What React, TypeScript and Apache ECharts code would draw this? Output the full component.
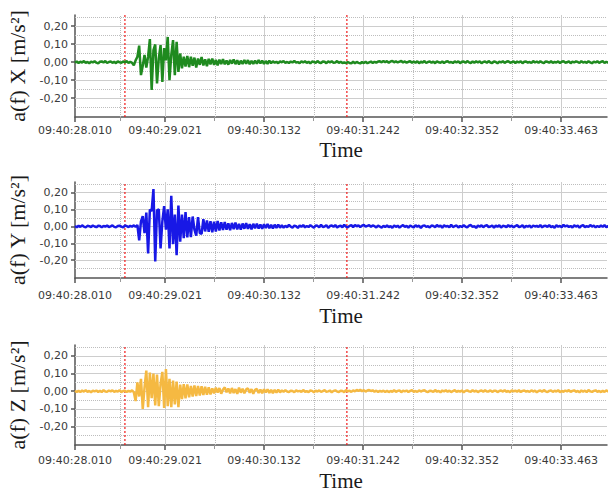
import React, { useEffect, useRef } from "react";
import * as echarts from "echarts";

// time axis: seconds within 09:40
const T0 = 28.01;
const DT = 0.02;
const X_MIN = 28.01;
const X_MAX = 33.978;
const Y_MIN = -0.305;
const Y_MAX = 0.262;
const tickTimes = [28.01, 29.021, 30.132, 31.242, 32.352, 33.463];
const minorTimes = [28.5155, 29.5765, 30.687, 31.797, 32.9075];
const markerTimes = [28.57, 31.06];
const yLabelValues = [-0.2, -0.1, 0, 0.1, 0.2];
const ySolid = [-0.2, -0.1, 0, 0.1, 0.2];
const yDotted = [-0.25, -0.15, -0.05, 0.05, 0.15, 0.25];
const axisNames = ["a(f) X [m/s²]", "a(f) Y [m/s²]", "a(f) Z [m/s²]"];

// accelerations in 0.001 m/s², one sample every DT seconds
const accXmilli = [
  -3, 4, -5, 2, -2, 6, -4, 1, -6, 3, -1, 5, -3, -7, 2, 4, -2, 6, -5, 1, 3, -4, 2, -6, 5, -1, -3, 4, -2, 6, -5, 2, -4,
  -18, 10, 30, 92, -72, -20, 40, -30, 30, 128, -155, 67, 98, -118, 20, 95, -110, 78, 10, 140, -100, 40, 122, -72, 113,
  -54, 48, -35, 30, -25, 35, -28, 30, -20, 25, -30, 20, -15, 28, -18, 15, -22, 18, -12, 20, -15, 12, -18,
  14, -10, 16, -12, 9, -14, 12, -8, 15, -11, 10, -13, 8, -10, 12, -9, 11, -12, 7, -10, 9, -8, 11, -7, 8, -10, 6, -9, 8, -6,
  5, -3, 2, -6, 4, -1, 6, -4, 1, -5, 3, -2, 7, -3, 0, -6, 4, -2, 5, -4,
  2, -7, 3, 1, -4, 6, -2, -5, 3, 2, -6, 4, -1, 5, -3, -2, 6, -4, 2, -5,
  -2, -6, 1, -5, -7, 2, -6, 1, -4, -7, 0, -5, 2, -6, -1, 3, -5, 2, -3, 4,
  5, -1, 6, 0, 5, -3, 4, 7, -1, 5, -2, 3, 6, -2, 4, -3, 2, 5, -3, 4,
  -3, 5, -6, 2, -2, 6, -5, 1, 4, -4, 3, -6, 5, -1, -3, 4, -5, 2, 6, -3,
  1, -5, 4, -2, 5, -6, 2, 3, -4, 6, -1, -5, 3, -3, 5, -2, 4, -6, 1, 3,
  -4, 6, -2, -5, 4, 1, -6, 3, -1, 5, -4, 2, 6, -3, -1, 4, -5, 3, -2, 5,
  -6, 2, 4, -3, 1, -5, 6, -2, 3, -4, 5, -1, -6, 4, 2, -3, 5, -4, 1, -2,
  4, -5, 2, 6, -3, -1, 5, -6, 3, -2, 4, 1, -5, 6, -3, 2, -4, 5, -1, -6,
  3, -2, 5, -4, 1, 6, -5, 2, -3, 4, -6, 3, 1, -4, 5, -2, -5, 4, -1, 3,
];

const accYmilli = [
  2, -5, 4, -3, 6, -2, -6, 3, 1, -4, 5, -1, -5, 4, 2, -6, 3, -2, 5, -4, 0, 6, -3, -5, 2, 4, -2, -6, 5, 1, -4, 3, -2, 6, -3,
  8, -83, 30, 61, -40, 81, -160, 100, 90, 220, -208, 95, 100, -130, 30, 119, -20, 100, -130, 181, -105, 70, -170, 123,
  -90, 70, -70, 85, -65, 55, -63, 58, -20, -55, 55, -40, -44, 42, -30, 35, -32, 30, -35, 28, -30, 32, -25, 24, -22, 25, -20,
  18, -22, 20, -16, 22, -18, 15, -20, 17, -14, 19, -15, 13, -17, 15, -12, 16, -13, 11, -15, 12, -10, 14, -11, 9, -12, 10, -9, 11, -8,
  6, -8, 3, -5, 9, -2, -7, 4, 1, -9, 5, -3, 8, -6, 2, -4, 7, -1, -8, 5,
  3, -6, 9, -4, -1, 7, -9, 2, 5, -3, 8, -7, 1, 4, -5, 9, -2, -6, 3, 7,
  -5, 8, 0, 6, -4, 4, 9, -2, 3, 7, -3, 5, 1, -6, 4, -1, -7, 3, -4, 6,
  -5, 2, -9, 6, -3, 4, -7, 1, 8, -4, 3, -8, 5, -1, -6, 7, -2, 4, -9, 3,
  6, -3, 1, -7, 5, 2, -5, 8, -2, 4, -8, 6, -1, 3, -6, 9, -4, 1, 5, -7,
  2, -4, 7, -1, -6, 4, 8, -3, 1, -9, 5, -2, 6, -5, 3, 7, -4, -1, 5, -8,
  4, -2, 6, -7, 3, 1, -5, 8, -3, 5, -6, 2, 7, -4, -1, 6, -8, 3, -2, 4,
  -7, 5, -1, 3, -4, 8, -6, 2, 4, -3, 7, -5, 1, -8, 6, -2, 3, -6, 9, -1,
  5, -4, 2, -7, 6, -1, 4, -8, 3, 7, -5, 1, -3, 8, -2, 5, -6, 2, -4, 6,
  -3, 7, -5, 1, 4, -6, 8, -2, -4, 5, -1, 6, -7, 3, 2, -5, 7, -3, 1, -6,
];

const accZmilli = [
  3, -4, 2, -5, 4, -2, 5, -3, 1, -6, 3, -1, 4, -4, 2, -5, 6, -2, -3, 4, -1, 5, -4, 2, -2, 6, -5, 1, 3, -4, 2, -3, 5, -6,
  -56, 50, -30, 70, -100, 20, 117, -90, 106, -40, 100, -80, 95, -85, 40, 110, -95, 126, -85, 70, -90, 60, -75, 55,
  -90, 37, -45, 40, -40, 38, -35, 30, -30, 32, -28, 30, -25, 28, -22, 25, -20, 22, -18,
  16, -12, 20, -8, 18, -14, 10, 22, -6, 15, -12, 18, -10, 12, -15, 20, -8, 14, -12, 10, 16, -9, 12, -14, 8, 13, -10, 9,
  -12, 11, -7, 10, -9, 8, -11, 7, -8, 9, -6,
  4, -3, 6, -2, -5, 3, 1, -6, 5, -1, 2, -4, 7, -3, 0, -5, 4, 2, -6, 3,
  -2, 5, -4, 1, 6, -3, -1, 4, -6, 2, 5, -2, -4, 3, 1, -5, 6, -1, 3, -4,
  5, -1, 7, 2, 8, 0, 6, -2, 4, 7, 1, 5, -3, 3, -4, 2, -3, 3, -4, 2,
  -5, 1, -3, 6, -4, 2, 5, -6, 3, -1, 4, -5, 2, 6, -3, 1, -4, 5, -2, 3,
  6, -2, -5, 3, 1, -4, 7, -3, 2, -6, 4, -1, 5, -3, 3, -5, 1, 6, -4, 2,
  -3, 4, -6, 2, 5, -1, -4, 6, -2, 3, -5, 1, 4, -3, 6, -2, -1, 5, -4, 2,
  3, -5, 1, 4, -2, 6, -4, 2, -6, 5, -1, 3, -3, 6, -5, 2, 4, -2, 1, -4,
  5, -2, 3, -6, 1, 4, -3, 6, -1, -5, 2, 5, -4, 3, -2, 6, -5, 1, -3, 4,
  -1, 6, -4, 2, 5, -3, 1, -6, 4, -2, 3, -5, 6, -1, -4, 2, 5, -3, 1, -5,
  2, -4, 5, -1, 3, -6, 4, -2, 6, -3, 1, -5, 3, 4, -2, -6, 5, -1, 2, -3,
];

const seriesValues = [accXmilli, accYmilli, accZmilli];
const seriesColors = ["#1f8a1f", "#1818e6", "#f5b942"];

const panels = [
  { top: 15, height: 102, labelMargin: 8, timeGap: 22 },
  { top: 182, height: 96, labelMargin: 12, timeGap: 27 },
  { top: 345, height: 100, labelMargin: 10, timeGap: 25 },
];

const fmtTime = (v: number) => "09:40:" + v.toFixed(3);
const fmtY = (v: number) => v.toFixed(2).replace(".", ",");

export default function App() {
  const ref = useRef<HTMLDivElement>(null);
  useEffect(() => {
    document.body.style.margin = "0";
    if (!ref.current) return;
    const chart = echarts.init(ref.current, undefined, { renderer: "svg" });
    const axisColor = "#555";
    const labelStyle = { fontFamily: "DejaVu Sans", fontSize: 11, color: "#3a3a3a" };
    const nameStyle = { fontFamily: "Liberation Serif", fontSize: 22, color: "#1a1a1a" };

    const grid = panels.map((p) => ({
      left: 75,
      right: 1,
      top: p.top,
      height: p.height,
      containLabel: false,
      outerBoundsMode: "none",
    }));

    const xMain = panels.map((p, k) => ({
      type: "value",
      gridIndex: k,
      min: X_MIN,
      max: X_MAX,
      position: "bottom",
      axisLine: { show: true, onZero: false, lineStyle: { color: axisColor, width: 1.5 } },
      axisTick: { show: true, customValues: tickTimes, length: 5, lineStyle: { color: axisColor, width: 1.5 } },
      axisLabel: { show: true, customValues: tickTimes, formatter: fmtTime, margin: p.labelMargin, ...labelStyle },
      splitLine: { show: false },
      name: "Time",
      nameLocation: "middle",
      nameGap: p.timeGap,
      nameTextStyle: { ...nameStyle, fontSize: 21 },
    }));
    const xMinor = panels.map((p, k) => ({
      type: "value",
      gridIndex: k,
      min: X_MIN,
      max: X_MAX,
      position: "bottom",
      axisLine: { show: false, onZero: false },
      axisTick: { show: true, customValues: minorTimes, length: 4, lineStyle: { color: "#999", width: 1 } },
      axisLabel: { show: false },
      splitLine: { show: false },
    }));

    const yAxes = panels.map((p, k) => ({
      type: "value",
      gridIndex: k,
      min: Y_MIN,
      max: Y_MAX,
      axisLine: { show: true, onZero: false, lineStyle: { color: axisColor, width: 1.5 } },
      axisTick: { show: true, customValues: yLabelValues, length: 4, lineStyle: { color: axisColor, width: 1.5 } },
      axisLabel: { show: true, customValues: yLabelValues, formatter: fmtY, margin: 7, ...labelStyle },
      splitLine: { show: false },
      name: axisNames[k],
      nameLocation: "middle",
      nameGap: 42,
      nameTextStyle: nameStyle,
    }));

    const solid = { type: "solid", color: "#cdcdcd", width: 1 };
    const dotted = { type: "dotted", color: "#bdbdbd", width: 1 };
    const series: any[] = [];
    panels.forEach((p, k) => {
      series.push({
        type: "line",
        xAxisIndex: k,
        yAxisIndex: k,
        data: [],
        silent: true,
        z: 1,
        markLine: {
          z: 1,
          silent: true,
          symbol: ["none", "none"],
          label: { show: false },
          emphasis: { disabled: true },
          data: [
            ...ySolid.map((v) => ({ yAxis: v, lineStyle: solid })),
            ...yDotted.map((v) => ({ yAxis: v, lineStyle: dotted })),
            ...tickTimes.slice(1).map((t) => ({ xAxis: t, lineStyle: solid })),
            ...minorTimes.map((t) => ({ xAxis: t, lineStyle: dotted })),
            { xAxis: X_MAX, lineStyle: solid },
          ],
        },
      });
      markerTimes.forEach((t) => {
        series.push({
          type: "line",
          xAxisIndex: k,
          yAxisIndex: k,
          silent: true,
          z: 2,
          showSymbol: false,
          symbol: "none",
          lineStyle: { type: [2, 2], color: "#f01818", width: 1.2 },
          itemStyle: { color: "#f01818" },
          data: [
            [t, Y_MIN],
            [t, Y_MAX],
          ],
        });
      });
      series.push({
        type: "line",
        xAxisIndex: k,
        yAxisIndex: k,
        z: 3,
        showSymbol: false,
        symbol: "none",
        clip: true,
        lineStyle: { color: seriesColors[k], width: 2.5 },
        itemStyle: { color: seriesColors[k] },
        data: seriesValues[k].map((v, i) => [T0 + i * DT, v / 1000]),
      });
    });

    chart.setOption({
      animation: false,
      backgroundColor: "#ffffff",
      grid,
      xAxis: [...xMain, ...xMinor],
      yAxis: yAxes,
      series,
    });
    return () => chart.dispose();
  }, []);
  return <div ref={ref} style={{ width: 608, height: 492 }} />;
}
